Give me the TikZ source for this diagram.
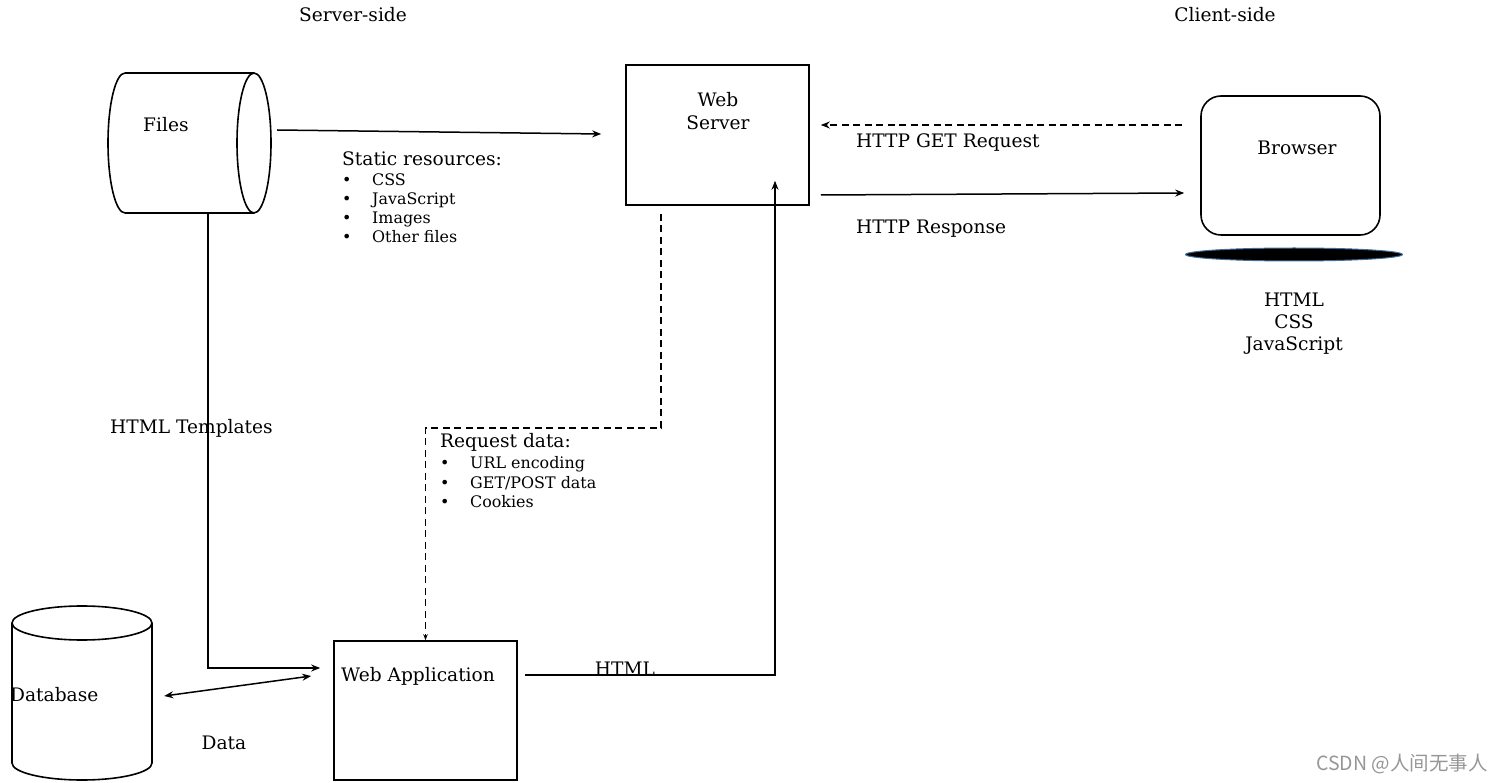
\documentclass[tikz,border=0pt]{standalone}
\usepackage{fontspec}
\setmainfont{DejaVu Serif}
\newfontfamily\cjk{Noto Sans CJK SC}
\usetikzlibrary{arrows.meta,calc,shapes.geometric}
\newcommand\blt{\makebox[28pt][l]{\hspace{-2pt}•}}
\begin{document}
\begin{tikzpicture}[x=1pt,y=-1pt,
  txt/.style={inner sep=0pt,font=\fontsize{18.6}{22.5}\selectfont},
  smalltxt/.style={inner sep=0pt,font=\fontsize{15.9}{19}\selectfont},
  box/.style={draw,line width=1.6pt,inner sep=0pt},
  conn/.style={line width=1.5pt,-{Stealth[length=9pt,width=7pt]}},
  dconn/.style={conn,dash pattern=on 7pt off 4.5pt},
  outline/.style={line width=1.6pt}]
\useasboundingbox (0,0) rectangle (1505,783);
% headings
\node[txt,anchor=base] (srv) at (353,22) {Server-side};
\node[txt,anchor=base] (cli) at (1225,22) {Client-side};
% Files cylinder (horizontal)
\node[inner sep=0pt,minimum width=163pt,minimum height=140pt] (files) at (189.5,143) {};
\draw[outline] (125,73) -- (254,73) (125,213) -- (254,213)
  (125,73) arc[start angle=90,end angle=270,x radius=17pt,y radius=70pt]
  (254,143) ellipse[x radius=17pt,y radius=70pt];
\node[txt,anchor=base west] (filest) at (143,132) {Files};
% Web server
\node[box,minimum width=183pt,minimum height=140pt] (ws) at (717.5,135) {};
\node[txt,align=center] (wst) at (718,111) {Web\\Server};
% Browser
\node[box,rounded corners=20pt,minimum width=179pt,minimum height=139pt] (br) at (1290.5,165.5) {};
\node[txt,anchor=base] (brt) at (1297,155) {Browser};
\node[ellipse,fill=black,draw={rgb,255:red,65;green,113;blue,156},line width=1pt,minimum width=217pt,minimum height=13pt,inner sep=0pt] (plat) at (1294,254.5) {};
\node[txt,anchor=base] (h1) at (1294,307) {HTML};
\node[txt,anchor=base] (h2) at (1294,329) {CSS};
\node[txt,anchor=base] (h3) at (1294,351) {JavaScript};
% Web application
\node[box,minimum width=183pt,minimum height=139pt] (wa) at (425.5,710.5) {};
\node[txt,anchor=base west] (wat) at (341,681) {Web Application};
% Database cylinder
\node[inner sep=0pt,minimum width=140pt,minimum height=174pt] (db) at (82,693) {};
\draw[outline] (82,623) ellipse[x radius=70pt,y radius=17pt]
  (12,623) -- (12,763) arc[start angle=180,end angle=360,x radius=70pt,y radius=17pt] -- (152,623);
\node[txt,anchor=base west] (dbt) at (10,701) {Database};
% static resources
\node[txt,anchor=base west] (st) at (342,166) {Static resources:};
\foreach \t [count=\i] in {CSS,JavaScript,Images,Other files}
  \node[smalltxt,anchor=base west] (sr\i) at (344,{167+19*\i}) {\blt\t};
% request data
\node[txt,anchor=base west] (rd) at (440,448) {Request data:};
\foreach \t [count=\i] in {URL encoding,GET/POST data,Cookies}
  \node[smalltxt,anchor=base west] (rd\i) at (442,{449+19.5*\i}) {\blt\t};
% labels
\node[txt,anchor=base west] (get) at (856,148) {HTTP GET Request};
\node[txt,anchor=base west] (resp) at (856,234) {HTTP Response};
\node[txt,anchor=base west] (tmpl) at (110,434) {HTML Templates};
\node[txt,anchor=base] (htmll) at (625,675) {HTML};
\node[txt,anchor=base] (datal) at (224,749) {Data};
\node[inner sep=0pt,anchor=base east,text={rgb,255:red,150;green,150;blue,150},font=\cjk\fontsize{19.5}{22}\selectfont] (wm) at (1488,770) {CSDN @人间无事人};
% connectors
\draw[conn] ($(files.east)+(6,-13)$) -- ($(ws.west)+(-24,-1)$);
\draw[dconn] ($(br.west)+(-18,-40.5)$) -- ($(ws.east)+(11,-10)$);
\draw[conn] ($(ws.east)+(11,60)$) -- ($(br.west)+(-16,27.5)$);
\draw[conn] ($(files.south)+(18.5,0)$) |- ($(wa.west)+(-13,-42.5)$);
\draw[line width=1.5pt,dash pattern=on 7pt off 4.5pt,-{Stealth[length=6pt,width=4.5pt]}] ($(ws.south)+(-56.5,8)$) -- ++(0,214) -| (wa.north);
\draw[conn] ($(wa.east)+(7,-35.5)$) -| ($(ws.south)+(57.5,-25)$);
\draw[conn,{Stealth[length=9pt,width=7pt]}-{Stealth[length=9pt,width=7pt]}] ($(db.east)+(12,3)$) -- ($(wa.west)+(-22,-34.5)$);
\end{tikzpicture}
\end{document}
